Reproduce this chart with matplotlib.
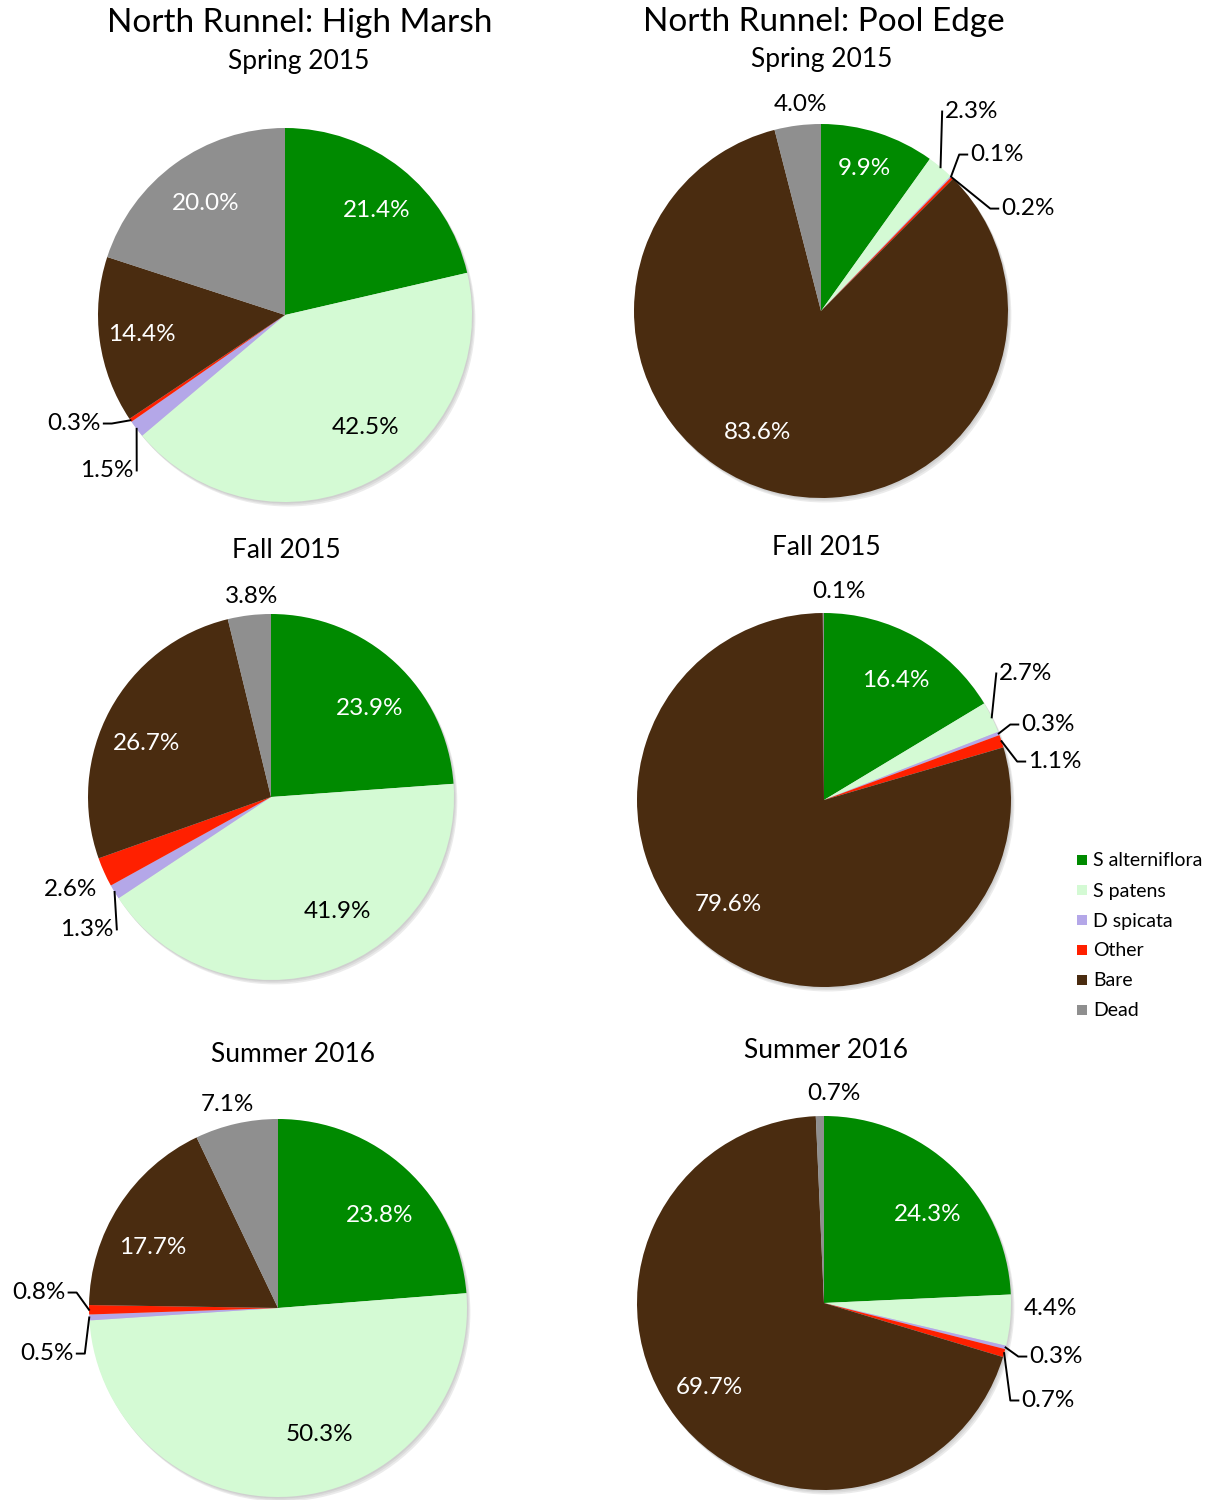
import matplotlib
matplotlib.use("Agg")
import matplotlib.pyplot as plt
from matplotlib.patches import Circle, Rectangle
import numpy as np

plt.rcParams['font.family'] = ['Lato', 'DejaVu Sans']

categories = ["S alterniflora", "S patens", "D spicata", "Other", "Bare", "Dead"]
colors = ["#008a00", "#d4fad4", "#b4a7e8", "#ff2000", "#4a2c10", "#8f8f8f"]

# percent cover per plot, same order as categories
hm_spring15 = [21.4, 42.5, 1.5, 0.3, 14.4, 20.0]
pe_spring15 = [9.9, 2.3, 0.1, 0.2, 83.6, 4.0]
hm_fall15 = [23.9, 41.9, 1.3, 2.6, 26.7, 3.8]
pe_fall15 = [16.4, 2.7, 0.3, 1.1, 79.6, 0.1]
hm_summer16 = [23.8, 50.3, 0.5, 0.8, 17.7, 7.1]
pe_summer16 = [24.3, 4.4, 0.3, 0.7, 69.7, 0.7]

W, H = 1213, 1500
fig = plt.figure(figsize=(W / 100, H / 100), dpi=100)

def fx(x):
    return x / W

def fy(y):
    return 1 - y / H

L = 1.6  # axes half-width in pie radii

# (values, centre px, radius px, label offsets in radii, slices with leader lines)
pies = [
    (hm_spring15, (285, 315), 187,
     [(0.492, 0.572), (0.428, -0.588), (-0.952, -0.818), (-1.128, -0.567), (-0.765, -0.091), (-0.422, 0.610)],
     [2, 3]),
    (pe_spring15, (821, 311), 187,
     [(0.230, 0.775), (0.807, 1.080), (0.941, 0.850), (1.107, 0.561), (-0.337, -0.636), (-0.112, 1.118)],
     [1, 2, 3]),
    (hm_fall15, (271, 797), 183,
     [(0.541, 0.497), (0.361, -0.612), (-1.005, -0.710), (-1.093, -0.492), (-0.678, 0.306), (-0.104, 1.109)],
     [2]),
    (pe_fall15, (824, 800), 187,
     [(0.385, 0.652), (1.080, 0.690), (1.198, 0.417), (1.235, 0.219), (-0.513, -0.545), (0.080, 1.128)],
     [1, 2, 3]),
    (hm_summer16, (278, 1308), 189,
     [(0.540, 0.503), (0.222, -0.656), (-1.222, -0.228), (-1.265, 0.095), (-0.661, 0.333), (-0.265, 1.090)],
     [2, 3]),
    (pe_summer16, (824, 1303), 187,
     [(0.556, 0.487), (1.209, -0.016), (1.241, -0.273), (1.198, -0.508), (-0.615, -0.438), (0.053, 1.134)],
     [2, 3]),
]

axes_info = []
for vals, (cx, cy), r, offs, leaders in pies:
    size = 2 * L * r
    ax = fig.add_axes([fx(cx - L * r), fy(cy + L * r), size / W, size / H])
    # soft shadow
    for k, a in enumerate([0.10, 0.10, 0.12]):
        ax.add_patch(Circle((0.006 * (k + 1), -0.008 * (k + 1)), 1.0, facecolor='#606060',
                            edgecolor='none', alpha=a, zorder=0))
    wedges, _ = ax.pie(vals, colors=colors, startangle=90, counterclock=False, radius=1,
                       wedgeprops=dict(linewidth=0), frame=False)
    ax.set_xlim(-L, L)
    ax.set_ylim(-L, L)
    ax.set_aspect('equal')
    ax.axis('off')
    texts = []
    for i, (v, (dx, dy)) in enumerate(zip(vals, offs)):
        inside = np.hypot(dx, dy) < 1.0
        c = 'white' if inside and i != 1 else 'black'
        t = ax.text(dx, dy - 2.5 / r, f"{v:.1f}%", ha='center', va='center', fontsize=17.5,
                    color=c, zorder=5)
        texts.append(t)
    axes_info.append((ax, wedges, texts, leaders, r))

# titles
fig.text(fx(300), fy(23), "North Runnel: High Marsh", ha='center', va='center', fontsize=24)
fig.text(fx(824), fy(22), "North Runnel: Pool Edge", ha='center', va='center', fontsize=24)
subtitles = [("Spring 2015", 299, 61), ("Spring 2015", 822, 59),
             ("Fall 2015", 286, 551), ("Fall 2015", 826, 548),
             ("Summer 2016", 293, 1055), ("Summer 2016", 826, 1051)]
for s, x, y in subtitles:
    fig.text(fx(x), fy(y), s, ha='center', va='center', fontsize=19)

# leader lines
fig.canvas.draw()
renderer = fig.canvas.get_renderer()
for ax, wedges, texts, leaders, r in axes_info:
    inv = ax.transData.inverted()
    gap = 3 / r
    stub = 8 / r
    for i in leaders:
        w = wedges[i]
        th = np.radians((w.theta1 + w.theta2) / 2)
        axp, ayp = np.cos(th), np.sin(th)
        bb = texts[i].get_window_extent(renderer)
        (x0, y0), (x1, y1) = inv.transform([(bb.x0, bb.y0), (bb.x1, bb.y1)])
        ym = (y0 + y1) / 2
        if (x0 + x1) / 2 > axp:
            ex = x0 - gap
            elx = ex - stub
            past = axp > elx
        else:
            ex = x1 + gap
            elx = ex + stub
            past = axp < elx
        if abs(axp - ex) < 0.6 * stub:
            xs, ys = [axp, ex], [ayp, ym]
        elif past:
            xs, ys = [axp, axp, ex], [ayp, ym, ym]
        else:
            xs, ys = [axp, elx, ex], [ayp, ym, ym]
        ax.plot(xs, ys, color='black', lw=1.4, zorder=4, clip_on=False)

# legend
for i, (name, col) in enumerate(zip(categories, colors)):
    y = 860 + 30 * i
    fig.add_artist(Rectangle((fx(1077), fy(y + 5)), 10 / W, 10 / H, facecolor=col,
                             edgecolor='none', transform=fig.transFigure))
    fig.text(fx(1093), fy(y + 1), name, ha='left', va='center', fontsize=14)

fig.savefig("out.png", dpi=100)
